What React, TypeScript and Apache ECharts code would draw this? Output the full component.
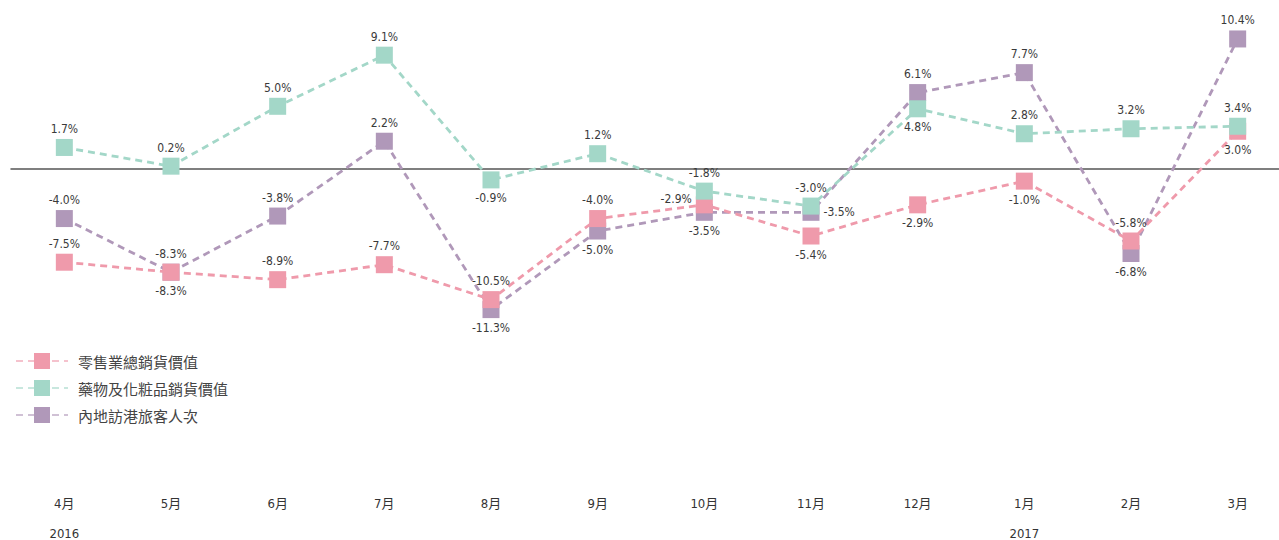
import React, { useEffect, useRef } from "react";
import * as echarts from "echarts";

const months = ["4月", "5月", "6月", "7月", "8月", "9月", "10月", "11月", "12月", "1月", "2月", "3月"];
const years = ["2016", "", "", "", "", "", "", "", "", "2017", "", ""];

const seriesNames = ["零售業總銷貨價值", "藥物及化粧品銷貨價值", "內地訪港旅客人次"];
const retail = [-7.5, -8.3, -8.9, -7.7, -10.5, -4.0, -2.9, -5.4, -2.9, -1.0, -5.8, 3.0];
const cosmetics = [1.7, 0.2, 5.0, 9.1, -0.9, 1.2, -1.8, -3.0, 4.8, 2.8, 3.2, 3.4];
const visitors = [-4.0, -8.3, -3.8, 2.2, -11.3, -5.0, -3.5, -3.5, 6.1, 7.7, -6.8, 10.4];

// label placement per point (style, not data)
const retailPos = ["top", "bottom", "top", "top", "top", "top", "left", "bottom", "bottom", "bottom", "top", "bottom"];
const cosmeticsPos = ["top", "top", "top", "top", "bottom", "top", "top", "top", "bottom", "top", "top", "top"];
const visitorsPos = ["top", "top", "top", "top", "bottom", "bottom", "bottom", "right", "top", "top", "bottom", "top"];

const colors = ["#EF9AAB", "#A3D7C8", "#B098B9"];
const labelFont = "'Liberation Sans Narrow', 'DejaVu Sans Condensed', 'Liberation Sans', 'Noto Sans CJK TC', sans-serif";

function buildData(values: number[], pos: string[]) {
  return values.map((v, i) => ({
    value: v,
    label: {
      position: pos[i],
      offset: pos[i] === "left" ? [0, -6] : [0, 0],
    },
  }));
}

function makeSeries(name: string, values: number[], pos: string[], color: string, z: number) {
  return {
    name,
    type: "line",
    z,
    data: buildData(values, pos),
    symbol: "rect",
    symbolSize: 17,
    itemStyle: { color },
    lineStyle: { color, width: 2.8, type: [7, 5] },
    label: {
      show: true,
      distance: 4,
      color: "#3a3a3a",
      fontSize: 12,
      fontFamily: labelFont,
      formatter: (p: any) => p.value.toFixed(1) + "%",
    },
  };
}

export default function App() {
  const ref = useRef<HTMLDivElement>(null);
  useEffect(() => {
    if (!ref.current) return;
    const chart = echarts.init(ref.current, null, { renderer: "svg" });
    chart.setOption({
      animation: false,
      grid: { left: 11, width: 1280, top: 19, bottom: 72, outerBoundsMode: "none", containLabel: false },
      legend: {
        orient: "vertical",
        left: 10,
        top: 348,
        itemWidth: 52,
        itemHeight: 20,
        itemGap: 11,
        data: seriesNames,
        lineStyle: { opacity: 0.6 },
        textStyle: {
          fontSize: 15,
          color: "#444",
          fontFamily: "'Noto Sans CJK TC', sans-serif",
          padding: [0, 0, 0, 5],
        },
      },
      xAxis: {
        type: "category",
        data: months,
        boundaryGap: true,
        axisTick: { show: false },
        axisLine: { onZero: true, lineStyle: { color: "#555", width: 1.5 } },
        axisLabel: {
          interval: 0,
          margin: 20,
          formatter: (v: string, i: number) => (years[i] ? `{m|${v}}\n{y|${years[i]}}` : `{m|${v}}`),
          rich: {
            m: { fontSize: 13, lineHeight: 30, color: "#333", fontFamily: labelFont },
            y: { fontSize: 13, lineHeight: 30, color: "#333", fontFamily: labelFont },
          },
        },
      },
      yAxis: {
        type: "value",
        min: -24,
        max: 12,
        show: false,
        splitLine: { show: false },
      },
      series: [
        makeSeries(seriesNames[2], visitors, visitorsPos, colors[2], 2),
        makeSeries(seriesNames[0], retail, retailPos, colors[0], 3),
        makeSeries(seriesNames[1], cosmetics, cosmeticsPos, colors[1], 4),
      ],
    });
    return () => chart.dispose();
  }, []);
  return (
    <div
      ref={ref}
      style={{ position: "absolute", left: 0, top: 0, width: 1279, height: 540 }}
    />
  );
}
